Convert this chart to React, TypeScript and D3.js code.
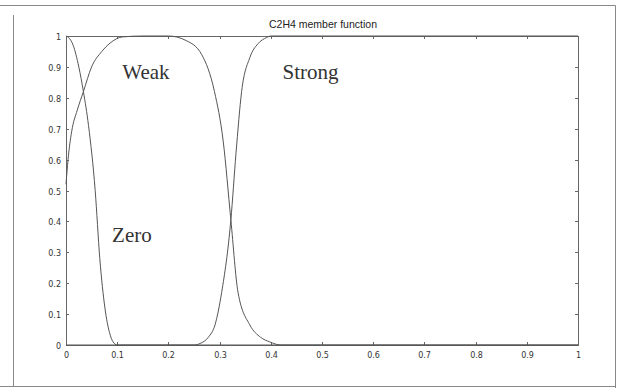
import React, { useEffect, useRef } from 'react';
import * as d3 from 'd3';

// membership curves
const zeroX = [0, 0.005, 0.014, 0.025, 0.034, 0.044, 0.057, 0.066, 0.076, 0.085, 0.092, 0.1, 0.2, 0.5, 1];
const zeroY = [1, 0.995, 0.97, 0.9, 0.82, 0.71, 0.5, 0.28, 0.12, 0.04, 0.01, 0, 0, 0, 0];

const weakX = [0, 0.004, 0.011, 0.022, 0.034, 0.05, 0.07, 0.086, 0.11, 0.15, 0.2, 0.235, 0.265, 0.29, 0.307, 0.322, 0.336, 0.359, 0.38, 0.398, 0.42, 0.5, 1];
const weakY = [0.52, 0.6, 0.69, 0.76, 0.82, 0.9, 0.95, 0.977, 0.997, 1, 1, 0.985, 0.94, 0.82, 0.66, 0.405, 0.17, 0.065, 0.025, 0.01, 0, 0, 0];

const strongX = [0, 0.2, 0.25, 0.262, 0.278, 0.291, 0.304, 0.322, 0.332, 0.343, 0.359, 0.375, 0.392, 0.4, 0.6, 1];
const strongY = [0, 0, 0, 0.005, 0.025, 0.065, 0.17, 0.405, 0.62, 0.82, 0.93, 0.975, 0.995, 1, 1, 1];

const xTicks = [0, 0.1, 0.2, 0.3, 0.4, 0.5, 0.6, 0.7, 0.8, 0.9, 1];
const yTicks = [0, 0.1, 0.2, 0.3, 0.4, 0.5, 0.6, 0.7, 0.8, 0.9, 1];

const labels = [
  { text: 'Weak', x: 0.11, y: 0.86 },
  { text: 'Strong', x: 0.423, y: 0.86 },
  { text: 'Zero', x: 0.09, y: 0.333 },
];

export default function App() {
  const ref = useRef<SVGSVGElement>(null);

  useEffect(() => {
    const svg = d3.select(ref.current);
    svg.selectAll('*').remove();

    const margin = { top: 36, left: 66 };
    const width = 512, height = 309;

    // scanned page frame
    svg.append('path')
      .attr('d', 'M0,5.5 H615.5 V388 M13.5,15 V386.5 M0,386.5 H615')
      .attr('fill', 'none').attr('stroke', '#888').attr('stroke-width', 1);

    const g = svg.append('g').attr('transform', 'translate(' + margin.left + ',' + margin.top + ')');

    const x = d3.scaleLinear().domain([0, 1]).range([0, width]);
    const y = d3.scaleLinear().domain([0, 1]).range([height, 0]);

    // box
    g.append('rect').attr('x', 0.5).attr('y', 0.5).attr('width', width).attr('height', height)
      .attr('fill', 'none').attr('stroke', '#666').attr('stroke-width', 1);

    const fmt = (d: number) => (d === 0 || d === 1 ? String(d) : d3.format('.1f')(d));

    // ticks inward, all four sides
    xTicks.forEach(t => {
      const px = Math.round(x(t)) + 0.5;
      g.append('line').attr('x1', px).attr('x2', px).attr('y1', height).attr('y2', height - 3).attr('stroke', '#666');
      g.append('line').attr('x1', px).attr('x2', px).attr('y1', 0).attr('y2', 3).attr('stroke', '#666');
      g.append('text').attr('x', px).attr('y', height + 13).attr('text-anchor', 'middle')
        .attr('font-family', 'DejaVu Sans, sans-serif').attr('font-size', 8).attr('fill', '#333').text(fmt(t));
    });
    yTicks.forEach(t => {
      const py = Math.round(y(t)) + 0.5;
      g.append('line').attr('x1', 0).attr('x2', 3).attr('y1', py).attr('y2', py).attr('stroke', '#666');
      g.append('line').attr('x1', width).attr('x2', width - 3).attr('y1', py).attr('y2', py).attr('stroke', '#666');
      g.append('text').attr('x', -5).attr('y', py + 3).attr('text-anchor', 'end')
        .attr('font-family', 'DejaVu Sans, sans-serif').attr('font-size', 8).attr('fill', '#333').text(fmt(t));
    });

    const line = d3.line<[number, number]>()
      .x(d => x(d[0])).y(d => y(d[1]))
      .curve(d3.curveMonotoneX);

    [[zeroX, zeroY], [weakX, weakY], [strongX, strongY]].forEach(([xs, ys]) => {
      g.append('path')
        .datum(xs.map((v, i) => [v, ys[i]] as [number, number]))
        .attr('fill', 'none').attr('stroke', '#555').attr('stroke-width', 1)
        .attr('d', line);
    });

    labels.forEach(l => {
      g.append('text').attr('x', x(l.x)).attr('y', y(l.y))
        .attr('font-family', 'Liberation Serif, serif').attr('font-size', 21).attr('fill', '#333').text(l.text);
    });

    g.append('text').attr('x', width / 2 + 1).attr('y', -8).attr('text-anchor', 'middle')
      .attr('font-family', 'Liberation Sans, sans-serif').attr('font-size', 10.5).attr('fill', '#222')
      .text('C2H4 member function');
  }, []);

  return (
    <svg ref={ref} width={622} height={388} style={{ position: 'absolute', left: 0, top: 0, background: '#fff' }} />
  );
}
